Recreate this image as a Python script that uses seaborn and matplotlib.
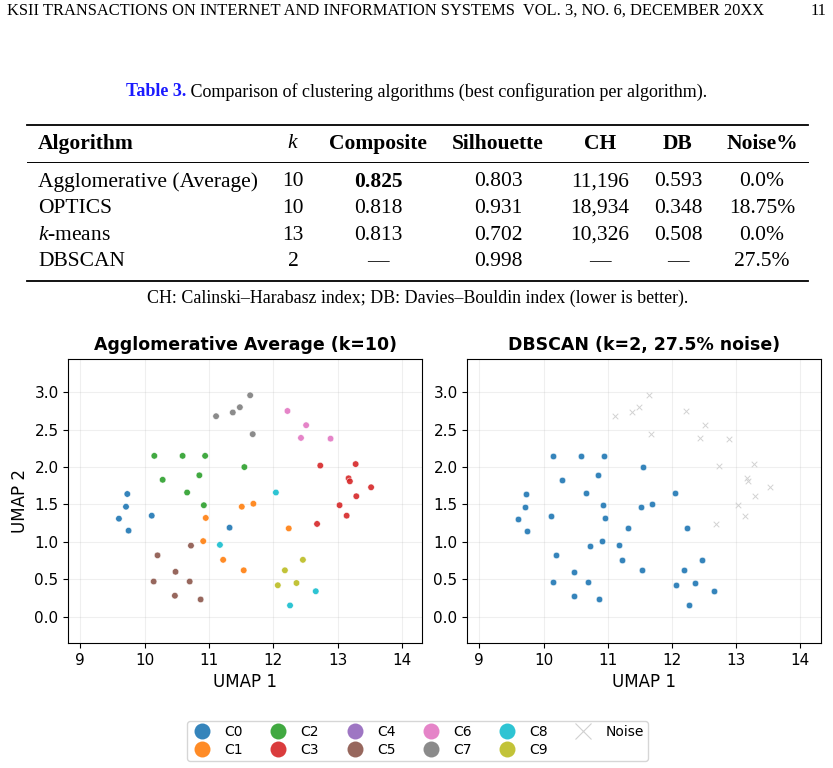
import numpy as np
import pandas as pd
import matplotlib
matplotlib.use("Agg")
import matplotlib.pyplot as plt
from matplotlib.lines import Line2D
import seaborn as sns

# ---------------- data ----------------
header_left = "KSII TRANSACTIONS ON INTERNET AND INFORMATION SYSTEMS  VOL. 3, NO. 6, DECEMBER 20XX"
header_right = "11"
caption_label = "Table 3."
caption_text = "Comparison of clustering algorithms (best configuration per algorithm)."
table_note = "CH: Calinski\u2013Harabasz index; DB: Davies\u2013Bouldin index (lower is better)."

col_headers = ["Algorithm", "$k$", "Composite", "Silhouette", "CH", "DB", "Noise%"]
algorithms = ["Agglomerative (Average)", "OPTICS", "$k$-means", "DBSCAN"]
k_values = ["10", "10", "13", "2"]
composite = ["0.825", "0.818", "0.813", "\u2014"]
silhouette = ["0.803", "0.931", "0.702", "0.998"]
ch_index = ["11,196", "18,934", "10,326", "\u2014"]
db_index = ["0.593", "0.348", "0.508", "\u2014"]
noise_pct = ["0.0%", "18.75%", "0.0%", "27.5%"]

umap1 = [9.73, 9.71, 9.60, 9.75, 10.11, 11.32,                       # C0
         11.51, 11.69, 10.95, 10.91, 11.22, 11.54, 12.24,             # C1
         10.15, 10.59, 10.94, 11.55, 10.28, 10.85, 10.66, 10.92,      # C2
         12.73, 13.28, 13.17, 13.19, 13.52, 13.29, 13.03, 13.14, 12.68,  # C3
         10.72, 10.20, 10.48, 10.14, 10.70, 10.47, 10.87,             # C5
         12.22, 12.51, 12.43, 12.89,                                  # C6
         11.64, 11.48, 11.37, 11.11, 11.68,                           # C7
         12.04, 11.17, 12.66, 12.26,                                  # C8
         12.46, 12.18, 12.36, 12.07]                                  # C9
umap2 = [1.64, 1.47, 1.31, 1.15, 1.35, 1.19,
         1.47, 1.51, 1.32, 1.01, 0.76, 0.62, 1.18,
         2.15, 2.15, 2.15, 2.00, 1.83, 1.89, 1.66, 1.49,
         2.02, 2.04, 1.85, 1.81, 1.73, 1.61, 1.49, 1.35, 1.24,
         0.95, 0.82, 0.60, 0.47, 0.47, 0.28, 0.23,
         2.75, 2.56, 2.39, 2.38,
         2.96, 2.80, 2.73, 2.68, 2.44,
         1.66, 0.96, 0.34, 0.15,
         0.76, 0.62, 0.45, 0.42]
cluster = (["C0"] * 6 + ["C1"] * 7 + ["C2"] * 8 + ["C3"] * 9 + ["C5"] * 7 +
           ["C6"] * 4 + ["C7"] * 5 + ["C8"] * 4 + ["C9"] * 4)
legend_clusters = ["C0", "C1", "C2", "C3", "C4", "C5", "C6", "C7", "C8", "C9"]
dbscan_noise_clusters = ["C3", "C6", "C7"]

# ---------------- figure ----------------
W, H = 833, 768
fig = plt.figure(figsize=(W / 100, H / 100), dpi=100)
plt.rcParams["mathtext.fontset"] = "custom"
plt.rcParams["mathtext.rm"] = "Liberation Serif"
plt.rcParams["mathtext.it"] = "Liberation Serif:italic"
plt.rcParams["mathtext.bf"] = "Liberation Serif:bold"

def fx(px):
    return px / W

def fy(py):
    return 1 - py / H

SERIF = "Liberation Serif"
fig.canvas.draw()
renderer = fig.canvas.get_renderer()

def fit(t, target_px):
    w = t.get_window_extent(renderer).width
    t.set_fontsize(t.get_fontsize() * target_px / w)
    return t.get_fontsize()

# header
th = fig.text(fx(7), fy(11), header_left, family=SERIF, fontsize=11, va="center", ha="left")
fit(th, 761)
fig.text(fx(826), fy(11), header_right, family=SERIF, fontsize=th.get_fontsize(), va="center", ha="right")

# caption
c1 = fig.text(fx(126), fy(92), caption_label, family=SERIF, fontsize=12, weight="bold",
              color="#1a1aff", va="center", ha="left")
c2 = fig.text(fx(126), fy(92), " " + caption_text, family=SERIF, fontsize=12, va="center", ha="left")
w1 = c1.get_window_extent(renderer).width
w2 = c2.get_window_extent(renderer).width
scale = 583 / (w1 + w2)
c1.set_fontsize(12 * scale)
c2.set_fontsize(12 * scale)
w1 = c1.get_window_extent(renderer).width
c2.set_x(fx(126 + w1))

# table
col_x = [38, 293, 378, 498, 600, 678, 762]
col_ha = ["left"] + ["center"] * 6
header_y = 144
row_y = [182, 208.5, 235.5, 262]
probe = fig.text(0, 0, algorithms[0], family=SERIF, fontsize=14)
body_fs = fit(probe, 220)
probe.remove()

for i, h in enumerate(col_headers):
    fig.text(fx(col_x[i]), fy(header_y), h, family=SERIF, fontsize=body_fs,
             weight="normal" if h == "$k$" else "bold", ha=col_ha[i], va="center")
columns = [algorithms, k_values, composite, silhouette, ch_index, db_index, noise_pct]
for r in range(len(algorithms)):
    for c, col in enumerate(columns):
        bold = (c == 2 and r == 0)
        fig.text(fx(col_x[c]), fy(row_y[r]), col[r], family=SERIF, fontsize=body_fs,
                 weight="bold" if bold else "normal", ha=col_ha[c], va="center")

for yy, lw in [(124.5, 1.3), (162, 0.7), (281.5, 1.3)]:
    fig.add_artist(Line2D([fx(27), fx(808)], [fy(yy), fy(yy)], color="black", lw=lw))

tn = fig.text(fx(417.5), fy(298), table_note, family=SERIF, fontsize=12, ha="center", va="center")
fit(tn, 542)

# ---------------- scatter plots ----------------
tab = sns.color_palette("tab10", 10)
cluster_colors = [tab[0], tab[1], tab[2], tab[3], tab[4], tab[5], tab[6], tab[7], tab[9], tab[8]]
palette = dict(zip(legend_clusters, cluster_colors))
df = pd.DataFrame({"UMAP 1": umap1, "UMAP 2": umap2, "cluster": cluster})
df["noise"] = df["cluster"].isin(dbscan_noise_clusters)

ax_bottom = 1 - 643 / H
ax_h = (643 - 358.7) / H
ax1 = fig.add_axes([fx(68.3), ax_bottom, fx(354), ax_h])
ax2 = fig.add_axes([fx(467.3), ax_bottom, fx(353.4), ax_h])

ALPHA = 0.9
sns.scatterplot(data=df, x="UMAP 1", y="UMAP 2", hue="cluster", palette=palette,
                s=22, alpha=ALPHA, edgecolor="white", linewidth=0.4, legend=False, ax=ax1)
sns.scatterplot(data=df[~df["noise"]], x="UMAP 1", y="UMAP 2", color=palette["C0"],
                s=22, alpha=ALPHA, edgecolor="white", linewidth=0.4, legend=False, ax=ax2)
sns.scatterplot(data=df[df["noise"]], x="UMAP 1", y="UMAP 2", color="#cdcdcd", marker="x",
                s=16, alpha=0.9, linewidth=0.7, legend=False, ax=ax2)

ax1.set_title("Agglomerative Average (k=10)", fontsize=12.5, fontweight="bold", pad=6)
ax2.set_title("DBSCAN (k=2, 27.5% noise)", fontsize=12.5, fontweight="bold", pad=6)
for ax in (ax1, ax2):
    ax.set_xlim(8.813, 14.316)
    ax.set_ylim(-0.352, 3.449)
    ax.set_xticks([9, 10, 11, 12, 13, 14])
    ax.set_yticks([0.0, 0.5, 1.0, 1.5, 2.0, 2.5, 3.0])
    ax.set_yticklabels(["0.0", "0.5", "1.0", "1.5", "2.0", "2.5", "3.0"])
    ax.tick_params(labelsize=11)
    ax.grid(True, alpha=0.2, linewidth=0.8)
    ax.set_axisbelow(True)
    ax.set_xlabel("UMAP 1", fontsize=12)
ax1.set_ylabel("UMAP 2", fontsize=12)
ax2.set_ylabel("")

# legend
handles = [Line2D([], [], marker="o", linestyle="", markersize=11.5, markerfacecolor=palette[c],
                  markeredgecolor="none", alpha=ALPHA) for c in legend_clusters]
handles.append(Line2D([], [], marker="x", linestyle="", markersize=11.5, color="#d0d0d0",
                      markeredgewidth=0.8))
labels = legend_clusters + ["Noise"]
fig.legend(handles, labels, loc="center", bbox_to_anchor=(fx(417.5), fy(741)), ncol=6,
           fontsize=10, frameon=True, handlelength=1.6, columnspacing=1.75, handletextpad=0.8,
           labelspacing=0.25, borderpad=0.3)

fig.savefig("out.png", dpi=100)
